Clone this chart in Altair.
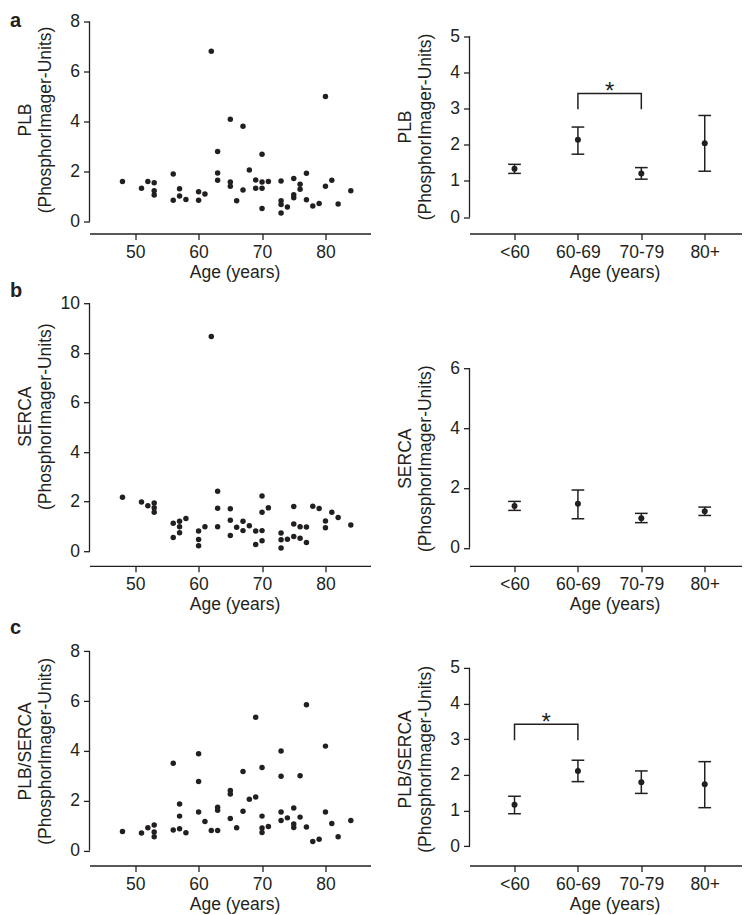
import json
import altair as alt
import pandas as pd

FONT = "Liberation Sans"
INK = "#231f20"

# ---------------- data ----------------
plb_age = [48, 51, 52, 53, 53, 53, 56, 56, 57, 57, 58, 60, 60, 61, 62, 63, 63, 63,
           65, 65, 65, 66, 67, 67, 68, 69, 69, 70, 70, 70, 70, 71, 73, 73, 73, 73,
           74, 75, 75, 75, 76, 76, 77, 77, 78, 79, 80, 80, 81, 82, 84]
plb_val = [1.60, 1.33, 1.60, 1.55, 1.23, 1.06, 1.90, 0.85, 1.31, 1.02, 0.88, 1.19,
           0.85, 1.10, 6.81, 2.80, 1.94, 1.65, 4.09, 1.58, 1.41, 0.83, 3.81, 1.26,
           2.06, 1.66, 1.33, 2.69, 1.58, 1.33, 0.52, 1.60, 1.62, 0.83, 0.68, 0.34,
           0.58, 1.72, 1.07, 0.95, 1.49, 1.29, 1.93, 0.87, 0.62, 0.72, 5.00, 1.41,
           1.65, 0.70, 1.23]

serca_age = [48, 51, 52, 53, 53, 53, 56, 56, 57, 57, 57, 58, 60, 60, 60, 61, 62, 63,
             63, 63, 65, 65, 65, 66, 67, 67, 68, 69, 69, 70, 70, 70, 70, 71, 73, 73,
             73, 74, 75, 75, 75, 76, 76, 77, 77, 78, 79, 80, 80, 81, 82, 84]
serca_val = [2.18, 1.98, 1.83, 1.94, 1.75, 1.57, 1.13, 0.55, 1.21, 0.99, 0.74, 1.32,
             0.81, 0.47, 0.22, 0.99, 8.66, 2.42, 1.73, 0.99, 1.71, 1.25, 0.63, 0.97,
             1.21, 0.83, 1.03, 0.81, 0.27, 2.23, 1.57, 0.83, 0.42, 1.75, 0.73, 0.46,
             0.13, 0.48, 1.80, 1.10, 0.59, 0.99, 0.52, 0.98, 0.35, 1.81, 1.72, 1.22,
             0.95, 1.57, 1.36, 1.06]

ratio_age = [48, 51, 52, 53, 53, 53, 56, 56, 57, 57, 57, 58, 60, 60, 60, 61, 62, 63,
             63, 63, 65, 65, 65, 66, 67, 67, 68, 69, 69, 70, 70, 70, 70, 71, 73, 73,
             73, 73, 74, 75, 75, 75, 76, 76, 77, 77, 78, 79, 80, 80, 81, 82, 84]
ratio_val = [0.76, 0.70, 0.91, 1.02, 0.74, 0.55, 3.50, 0.82, 1.87, 1.38, 0.87, 0.71,
             3.88, 2.77, 1.55, 1.16, 0.80, 1.74, 1.62, 0.80, 2.41, 2.27, 1.28, 0.91,
             3.17, 1.58, 2.06, 5.35, 2.15, 3.33, 1.38, 0.90, 0.72, 0.96, 3.99, 2.98,
             1.55, 1.20, 1.31, 1.71, 1.06, 0.92, 3.00, 1.34, 5.85, 0.94, 0.36, 0.45,
             4.19, 1.55, 1.08, 0.55, 1.20]

groups = ["<60", "60-69", "70-79", "80+"]
group_pos = [1, 2, 3, 4]

plb_mean = [1.34, 2.14, 1.21, 2.04]
plb_low = [1.21, 1.74, 1.05, 1.27]
plb_high = [1.46, 2.49, 1.37, 2.81]

serca_mean = [1.40, 1.47, 0.99, 1.22]
serca_low = [1.25, 0.97, 0.84, 1.08]
serca_high = [1.55, 1.93, 1.15, 1.36]

ratio_mean = [1.16, 2.11, 1.79, 1.74]
ratio_low = [0.91, 1.81, 1.48, 1.08]
ratio_high = [1.40, 2.41, 2.11, 2.37]

# significance brackets (group position, value)
plb_bracket_x = [2, 2, 3, 3]
plb_bracket_y = [2.98, 3.42, 3.42, 2.98]
ratio_bracket_x = [1, 1, 2, 2]
ratio_bracket_y = [2.97, 3.42, 3.42, 2.97]

age_ticks = [50, 60, 70, 80]
age_domain = [42.8, 87.1]
group_domain = [0.29, 4.58]

LEFT_W = 281
RIGHT_W = 272
LABEL_EXPR = json.dumps(groups) + "[datum.value - 1]"


def x_axis(offset, **kw):
    return alt.Axis(offset=offset, title="Age (years)", titleX=145, titleY=30,
                    titleBaseline="top", titleAlign="center", labelFlush=False, **kw)


def y_axis(ticks, title_lines, title_y):
    return alt.Axis(values=ticks, domain=False, title=title_lines, titleX=-54.6,
                    titleY=title_y, titleAngle=270, titleBaseline="bottom",
                    titleAlign="center", titleLineHeight=20)


def panel_label(letter, y):
    return alt.Chart(pd.DataFrame({"t": [letter]})).mark_text(
        font=FONT, fontSize=20, fontWeight="bold", color=INK, align="left",
        baseline="alphabetic").encode(x=alt.value(-79.5), y=alt.value(y), text="t:N")


def scatter_panel(ages, vals, letter, letter_y, title_lines, ticks, domain,
                  height, title_y, x_off):
    df = pd.DataFrame({"age": ages, "value": vals})
    xenc = alt.X("age:Q", scale=alt.Scale(domain=age_domain, nice=False, zero=False),
                 axis=x_axis(x_off, values=age_ticks))
    yscale = alt.Scale(domain=domain, nice=False, zero=False)
    yax = y_axis(ticks, title_lines, title_y)
    pts = alt.Chart(df).mark_circle(size=30, color=INK, opacity=1).encode(
        x=xenc, y=alt.Y("value:Q", scale=yscale, axis=yax))
    line_df = pd.DataFrame({"value": [ticks[0]], "value2": [ticks[-1]]})
    yline = alt.Chart(line_df).mark_rule(color=INK, strokeWidth=1.3).encode(
        x=alt.value(0), y=alt.Y("value:Q", scale=yscale, axis=yax), y2="value2:Q")
    return alt.layer(pts, yline, panel_label(letter, letter_y)).properties(
        width=LEFT_W, height=height)


def group_panel(means, lows, highs, title_lines, ticks, domain, height, title_y,
                x_off, bx=None, by=None):
    df = pd.DataFrame({"pos": group_pos, "mean": means, "low": lows, "high": highs})
    xenc = alt.X("pos:Q", scale=alt.Scale(domain=group_domain, nice=False, zero=False),
                 axis=x_axis(x_off, values=group_pos, labelExpr=LABEL_EXPR))
    yscale = alt.Scale(domain=domain, nice=False, zero=False)
    yax = y_axis(ticks, title_lines, title_y)

    def Y(f):
        return alt.Y(f"{f}:Q", scale=yscale, axis=yax)

    base = alt.Chart(df)
    bars = base.mark_rule(color=INK, strokeWidth=1.5).encode(x=xenc, y=Y("low"), y2="high:Q")
    cap_lo = base.mark_tick(orient="horizontal", size=12.7, thickness=1.5, color=INK,
                            opacity=1).encode(x=xenc, y=Y("low"))
    cap_hi = base.mark_tick(orient="horizontal", size=12.7, thickness=1.5, color=INK,
                            opacity=1).encode(x=xenc, y=Y("high"))
    dots = base.mark_circle(size=36, color=INK, opacity=1).encode(x=xenc, y=Y("mean"))
    line_df = pd.DataFrame({"value": [ticks[0]], "value2": [ticks[-1]]})
    yline = alt.Chart(line_df).mark_rule(color=INK, strokeWidth=1.3).encode(
        x=alt.value(0), y=Y("value"), y2="value2:Q")
    layers = [bars, cap_lo, cap_hi, dots, yline]
    if bx is not None:
        bdf = pd.DataFrame({"pos": bx, "value": by, "order": list(range(len(bx)))})
        layers.append(alt.Chart(bdf).mark_line(color=INK, strokeWidth=1.5).encode(
            x=xenc, y=Y("value"), order="order:Q"))
        sdf = pd.DataFrame({"pos": [(bx[0] + bx[-1]) / 2], "value": [max(by)], "t": ["*"]})
        layers.append(alt.Chart(sdf).mark_text(font=FONT, fontSize=24, color=INK,
                                               baseline="alphabetic", align="center",
                                               dy=6).encode(x=xenc, y=Y("value"), text="t:N"))
    return alt.layer(*layers).properties(width=RIGHT_W, height=height)


pa_l = scatter_panel(plb_age, plb_val, "a", 5.5, ["PLB", "(PhosphorImager-Units)"],
                     [0, 2, 4, 6, 8], [0, 8], 200, 98, 12)
pa_r = group_panel(plb_mean, plb_low, plb_high, ["PLB", "(PhosphorImager-Units)"],
                   [0, 1, 2, 3, 4, 5], [-0.119, 5.406], 200, 105, 12,
                   plb_bracket_x, plb_bracket_y)
pb_l = scatter_panel(serca_age, serca_val, "b", -6.7, ["SERCA", "(PhosphorImager-Units)"],
                     [0, 2, 4, 6, 8, 10], [0, 10], 248, 113, 14.6)
pb_r = group_panel(serca_mean, serca_low, serca_high, ["SERCA", "(PhosphorImager-Units)"],
                   [0, 2, 4, 6], [-0.114, 8.172], 248, 155, 14.6)
pc_l = scatter_panel(ratio_age, ratio_val, "c", 1, ["PLB/SERCA", "(PhosphorImager-Units)"],
                     [0, 2, 4, 6, 8], [0, 8.735], 217.6, 118, 15)
pc_r = group_panel(ratio_mean, ratio_low, ratio_high, ["PLB/SERCA", "(PhosphorImager-Units)"],
                   [0, 1, 2, 3, 4, 5], [-0.12, 5.978], 217.6, 126, 15,
                   ratio_bracket_x, ratio_bracket_y)

chart = alt.concat(
    pa_l, pa_r, pb_l, pb_r, pc_l, pc_r,
    columns=2, bounds="flush", align="each",
    spacing={"row": 81.7, "column": 99},
    padding={"top": 2.5, "left": 1.5, "right": 0, "bottom": 0},
).configure_axis(
    labelFont=FONT, titleFont=FONT, labelFontSize=17.5, titleFontSize=17.5,
    labelColor=INK, titleColor=INK, domainColor=INK, tickColor=INK,
    domainWidth=1.3, tickWidth=1.3, tickSize=6, labelPadding=4, grid=False,
    titleFontWeight="normal",
).configure_view(stroke=None)

chart.save("out.html", embed_options={"renderer": "svg", "actions": False})
